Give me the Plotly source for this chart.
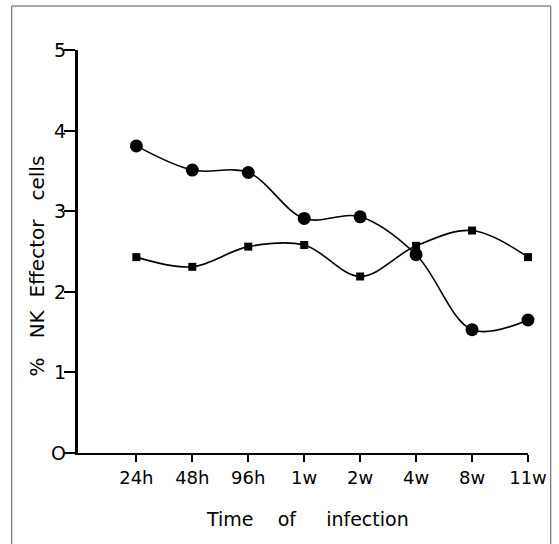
import plotly.graph_objects as go

categories = ["24h", "48h", "96h", "1w", "2w", "4w", "8w", "11w"]
circle_values = [3.81, 3.51, 3.48, 2.91, 2.93, 2.46, 1.53, 1.65]
square_values = [2.43, 2.31, 2.56, 2.58, 2.19, 2.57, 2.76, 2.43]
y_ticks = [0, 1, 2, 3, 4, 5]
y_ticklabels = ["O", "1", "2", "3", "4", "5"]
x_title = "Time    of     infection"
y_title = "%   NK  Effector   cells"

xpos = list(range(1, len(categories) + 1))

W, H = 559, 544
L, R, T, B = 78, 26, 50, 91
pw, ph = W - L - R, H - T - B

def px(x):
    return (x - L) / pw

def py(y):
    return (H - B - y) / ph

fig = go.Figure()
fig.add_trace(go.Scatter(
    x=xpos, y=square_values, mode="lines+markers",
    line=dict(color="black", width=1.6, shape="spline", smoothing=1),
    marker=dict(symbol="square", size=8, color="black"),
    cliponaxis=False, showlegend=False))
fig.add_trace(go.Scatter(
    x=xpos, y=circle_values, mode="lines+markers",
    line=dict(color="black", width=1.6, shape="spline", smoothing=1),
    marker=dict(symbol="circle", size=13, color="black"),
    cliponaxis=False, showlegend=False))

FONT = "DejaVu Sans"

annotations = [
    dict(text=x_title, xref="paper", yref="paper", x=px(205), y=py(519),
         xanchor="left", yanchor="middle", showarrow=False,
         font=dict(size=19, family=FONT, color="black")),
    dict(text=y_title, xref="paper", yref="paper", x=px(37), y=py(266),
         xanchor="center", yanchor="middle", showarrow=False, textangle=-90,
         font=dict(size=20, family=FONT, color="black")),
]
for v, lab in zip(y_ticks, y_ticklabels):
    annotations.append(dict(text=lab, xref="paper", yref="y", x=px(68), y=v,
                            xanchor="right", yanchor="middle", showarrow=False,
                            font=dict(size=19, family=FONT, color="black")))

fig.update_layout(
    width=W, height=H,
    margin=dict(l=L, r=R, t=T, b=B),
    paper_bgcolor="white", plot_bgcolor="white",
    font=dict(family=FONT, color="black"),
    xaxis=dict(
        range=[-0.043, 8], tickmode="array", tickvals=xpos, ticktext=categories,
        showgrid=False, zeroline=False, showline=True, linecolor="black", linewidth=2,
        ticks="outside", ticklen=7, tickwidth=1.5, tickcolor="black",
        tickfont=dict(size=18, family=FONT, color="black"),
    ),
    yaxis=dict(
        range=[0, 5], tickmode="array", tickvals=y_ticks, showticklabels=False,
        showgrid=False, zeroline=False, showline=True, linecolor="black", linewidth=2.5,
        ticks="outside", ticklen=11, tickwidth=1.5, tickcolor="black",
    ),
    annotations=annotations,
    shapes=[
        dict(type="line", xref="paper", yref="paper", x0=px(11), x1=px(11), y0=py(6), y1=py(544),
             line=dict(color="#555555", width=1)),
        dict(type="line", xref="paper", yref="paper", x0=px(11), x1=px(556), y0=py(6), y1=py(6),
             line=dict(color="#555555", width=1)),
        dict(type="line", xref="paper", yref="paper", x0=px(556), x1=px(556), y0=py(6), y1=py(544),
             line=dict(color="#555555", width=1)),
    ],
)

fig.write_html("out.html", config={"displayModeBar": False},
               post_script="document.body.style.margin='0';document.body.style.overflow='hidden';")
